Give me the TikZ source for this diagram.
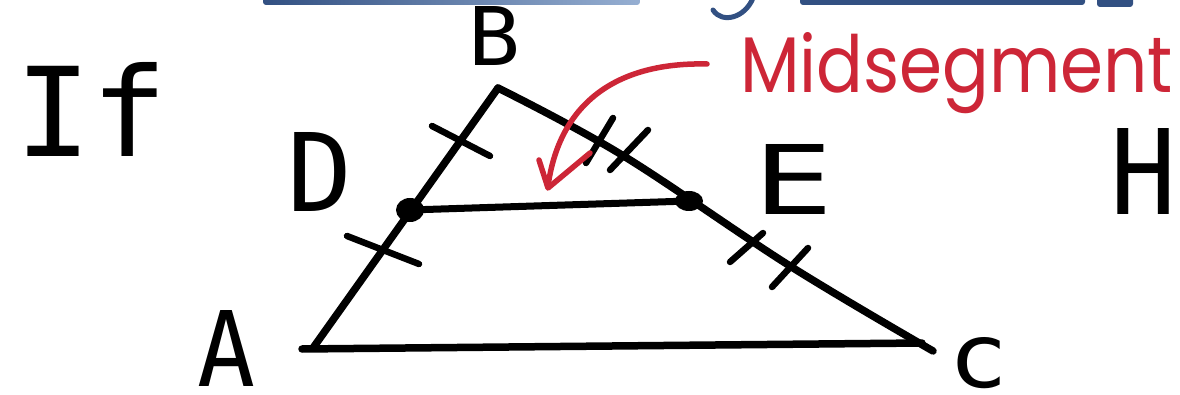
\documentclass[tikz,border=0pt]{standalone}
\usepackage{fontspec}
\setmainfont{Poppins}
\newfontfamily\handfont{DejaVu Sans Mono}
\usepackage{graphicx}
\definecolor{inkred}{RGB}{205,38,55}
\definecolor{hlblue}{RGB}{50,80,130}
\definecolor{hlblueL}{RGB}{150,175,210}
\newcommand\fitlbl[3]{\resizebox{#1}{#2}{#3}}
\begin{document}
\begin{tikzpicture}[x=1pt,y=-1pt,line cap=round,line join=round,
  ink/.style={draw=black,line width=7.5pt},
  tickmark/.style={draw=black,line width=6.5pt},
  redink/.style={draw=inkred,line width=5.5pt},
  lab/.style={inner sep=0pt,outer sep=0pt,anchor=base west,font=\handfont}]
\fill[white] (0,0) rectangle (1180,395);
\useasboundingbox (0,0) rectangle (1180,395);
% cut-off blue title strokes
\shade[left color=hlblue,right color=hlblueL,rounded corners=3pt] (263,-8) rectangle (640,5);
\fill[hlblue,rounded corners=3pt] (800,-8) rectangle (1085,5);
\fill[hlblue,rounded corners=3pt] (1097,-8) rectangle (1133,7);
\draw[hlblue,line width=5pt] (753,-2) .. controls (745,18) and (722,24) .. (713,10);
% points
\coordinate (A) at (313,348);
\coordinate (A0) at (302,349);
\coordinate (B) at (498,88);
\coordinate (C) at (933,351);
\coordinate (Cb) at (922,343);
\coordinate (D) at (410,210);
\coordinate (E) at (689,201);
% triangle
\draw[ink] (Cb) -- (A0);
\draw[ink] (A) -- (B);
\draw[ink] plot[smooth,tension=0.6] coordinates {(B) (622,155) (790,266) (C)};
% midsegment
\draw[ink,line width=7pt] (D) -- (E);
\fill (D) ellipse (14 and 12);
\fill (E) ellipse (14 and 10);
% tick marks
\draw[tickmark] (432,126) -- (490,156);
\draw[tickmark] (347,236) -- (419,264);
\draw[tickmark] (613,118) -- (586,163);
\draw[tickmark] (648,130) -- (610,170);
\draw[tickmark] (730,262) -- (763,233);
\draw[tickmark] (772,287) -- (808,248);
% red arrow
\draw[redink] (707,64) .. controls (620,62) and (560,100) .. (548,186);
\draw[redink] (539,160) -- (548,188) -- (590,153);
% labels
\node[lab] (lIf) at (15,157) {\fitlbl{152pt}{94pt}{If}};
\node[lab] (lB) at (468,66) {\fitlbl{52pt}{59pt}{B}};
\node[lab] (lD) at (287,212) {\fitlbl{65pt}{79pt}{D}};
\node[lab] (lE) at (753,215) {\fitlbl{80pt}{70pt}{E}};
\node[lab] (lA) at (197,386) {\fitlbl{58pt}{76pt}{A}};
\node[lab] (lC) at (948,387) {\fitlbl{60pt}{50pt}{c}};
\node[lab] (lH) at (1110,215) {\fitlbl{66pt}{86pt}{H}};
\node[lab,font=\rmfamily,text=inkred] (lMid) at (740,93) {\fitlbl{433pt}{60pt}{Midsegment}};
\end{tikzpicture}
\end{document}
